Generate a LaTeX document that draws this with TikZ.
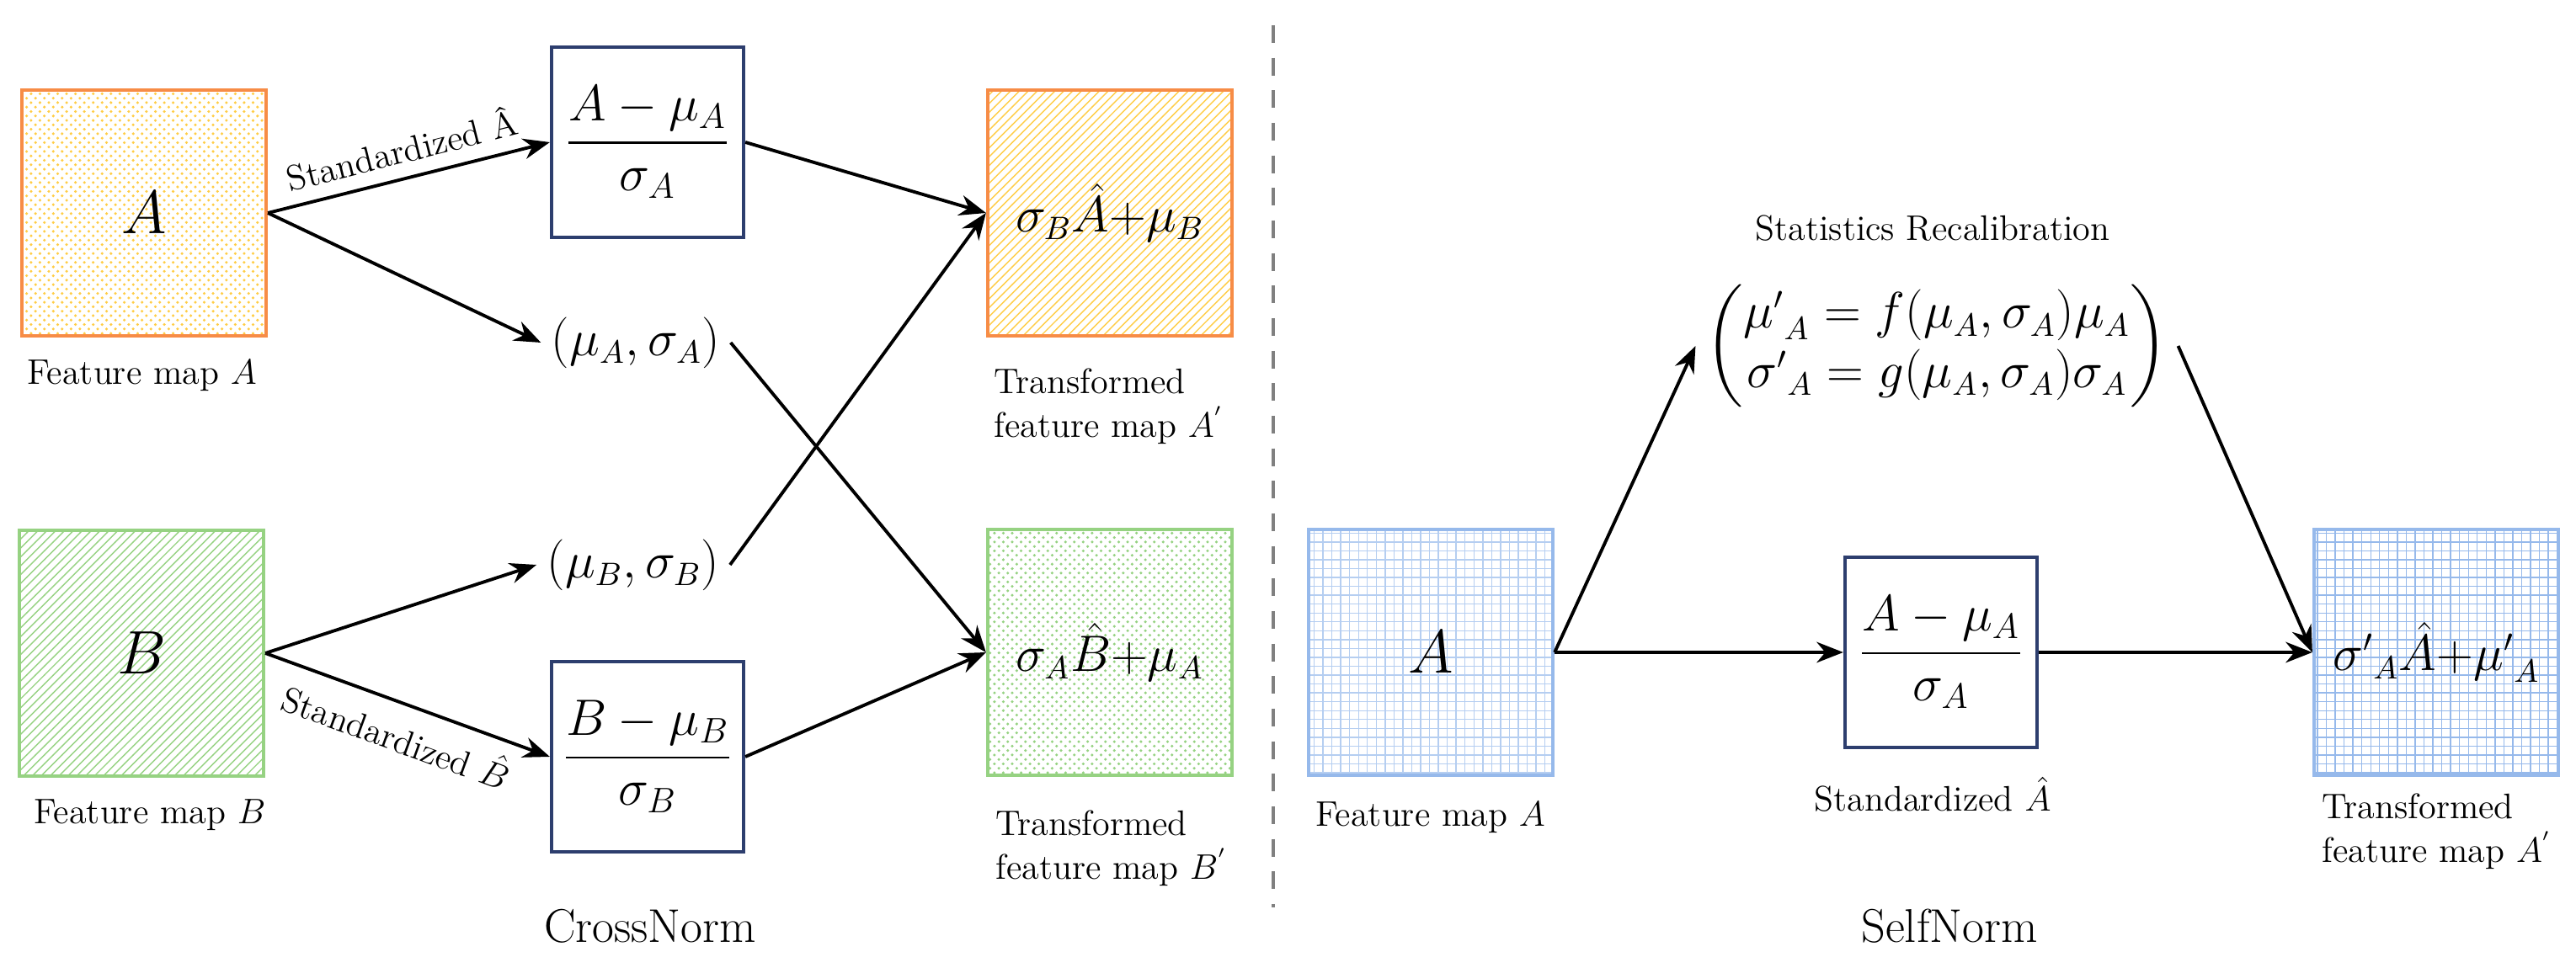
\documentclass[tikz,border=0pt]{standalone}
\usepackage{amsmath}
\usetikzlibrary{arrows.meta,patterns}
\definecolor{boxorange}{RGB}{247,140,70}
\definecolor{fillyellow}{RGB}{255,205,70}
\definecolor{boxgreen}{RGB}{150,210,130}
\definecolor{boxblue}{RGB}{150,185,235}
\definecolor{navy}{RGB}{45,62,110}
\begin{document}
\begin{tikzpicture}[
    fmap/.style = {draw, line width=1.2pt, minimum width=2.9cm, minimum height=2.92cm, font=\fontsize{20}{24}\selectfont},
    res/.style = {fmap, font=\fontsize{16}{20}\selectfont},
    std/.style = {draw=navy, line width=1.2pt, minimum width=2.28cm, minimum height=2.26cm, font=\fontsize{17}{21}\selectfont},
    lbl/.style = {font=\fontsize{12}{15}\selectfont},
    stat/.style = {font=\fontsize{16}{20}\selectfont},
    ->/.style = {-{Stealth[length=9pt,width=7pt]}, line width=1.1pt}]
        \useasboundingbox (0,0) rectangle (30.59,-11.5);
        % CrossNorm
        \node[fmap, draw=boxorange, pattern=crosshatch dots, pattern color=fillyellow] (fa) at (1.71,-2.53) {$A$};
        \node[fmap, draw=boxgreen, pattern=north east lines, pattern color=boxgreen] (fb) at (1.68,-7.76) {$B$};
        \node[lbl, anchor=west] (fal) at (0.2,-4.46) {Feature map $A$};
        \node[lbl, anchor=west] (fbl) at (0.28,-9.68) {Feature map $B$};
        \node[std] (sa) at (7.69,-1.69) {$\dfrac{A-\mu_A}{\sigma_A}$};
        \node[std] (sb) at (7.69,-8.99) {$\dfrac{B-\mu_B}{\sigma_B}$};
        \node[stat] (ma) at (7.55,-4.07) {$(\mu_A,\sigma_A)$};
        \node[stat] (mb) at (7.52,-6.71) {$(\mu_B,\sigma_B)$};
        \node[res, draw=boxorange, pattern=north east lines, pattern color=fillyellow] (oa) at (13.18,-2.53) {$\sigma_B\hat{A}{+}\mu_B$};
        \node[res, draw=boxgreen, pattern=crosshatch dots, pattern color=boxgreen] (ob) at (13.18,-7.75) {$\sigma_A\hat{B}{+}\mu_A$};
        \node[lbl, anchor=north west, align=left] (oal) at (11.68,-4.25) {Transformed\\feature map $A^{'}$};
        \node[lbl, anchor=north west, align=left] (obl) at (11.7,-9.5) {Transformed\\feature map $B^{'}$};
        \node[font=\fontsize{16}{19}\selectfont] (cn) at (7.72,-11.0) {CrossNorm};
        \draw[->] (fa.east) -- node[lbl, sloped, above=1pt, pos=0.5] {Standardized \^A} (sa.west);
        \draw[->] (fa.east) -- (ma.west);
        \draw[->] (fb.east) -- (mb.west);
        \draw[->] (fb.east) -- node[lbl, sloped, below=1pt, pos=0.5] {Standardized $\hat{B}$} (sb.west);
        \draw[->] (sa.east) -- (oa.west);
        \draw[->] (mb.east) -- (oa.west);
        \draw[->] (ma.east) -- (ob.west);
        \draw[->] (sb.east) -- (ob.west);
        % divider
        \coordinate (d1) at (15.12,-0.3);
        \coordinate (d2) at (15.12,-10.78);
        \draw[gray, dashed, line width=1pt, dash pattern=on 6pt off 5pt] (d1) -- (d2);
        % SelfNorm
        \node[fmap, draw=boxblue, pattern=grid, pattern color=boxblue!70] (ra) at (16.99,-7.75) {$A$};
        \node[lbl, anchor=west] (ral) at (15.5,-9.71) {Feature map $A$};
        \node[std] (rs) at (23.05,-7.75) {$\dfrac{A-\mu_A}{\sigma_A}$};
        \node[lbl] (rsl) at (22.95,-9.44) {Standardized $\hat{A}$};
        \node[lbl] (title) at (22.95,-2.71) {Statistics Recalibration};
        \node[stat] (mat) at (23.0,-4.11) {$\begin{pmatrix}{\mu'}_A=f(\mu_A,\sigma_A)\mu_A\\{\sigma'}_A=g(\mu_A,\sigma_A)\sigma_A\end{pmatrix}$};
        \node[res, draw=boxblue, pattern=grid, pattern color=boxblue] (ro) at (28.93,-7.75) {${\sigma'}_A\hat{A}{+}{\mu'}_A$};
        \node[lbl, anchor=north west, align=left] (rol) at (27.45,-9.3) {Transformed\\feature map $A^{'}$};
        \node[font=\fontsize{16}{19}\selectfont] (sn) at (23.15,-11.0) {SelfNorm};
        \draw[->] (ra.east) -- (mat.west);
        \draw[->] (ra.east) -- (rs.west);
        \draw[->] (rs.east) -- (ro.west);
        \draw[->] (mat.east) -- (ro.west);
    \end{tikzpicture}
\end{document}
